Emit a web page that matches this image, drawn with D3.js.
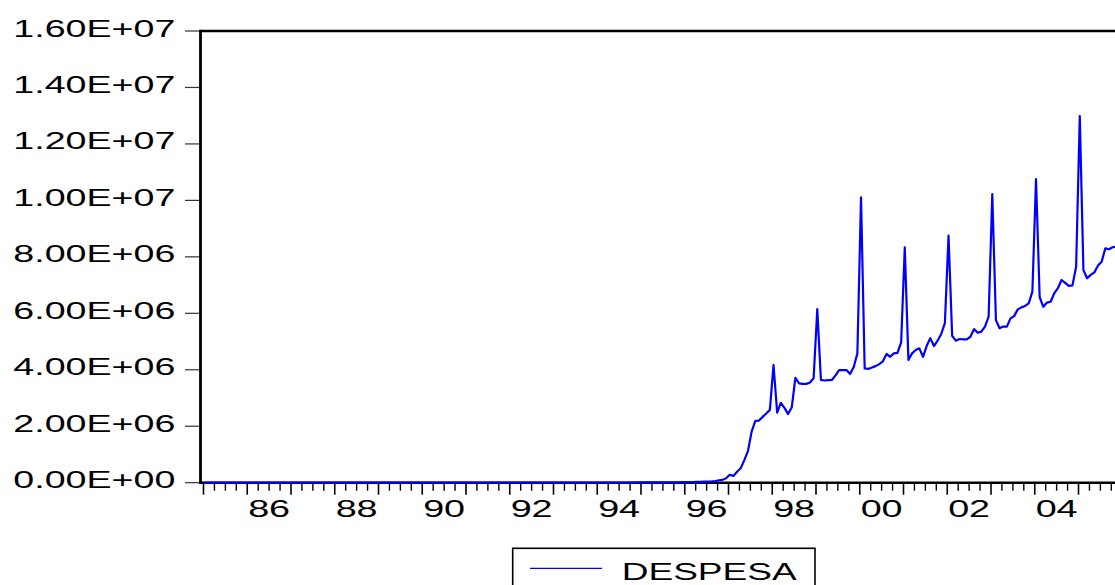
<!DOCTYPE html>
<html>
<head>
<meta charset="utf-8">
<script src="https://cdn.jsdelivr.net/npm/d3@7"></script>
<style>
  html, body { margin: 0; padding: 0; background: #fff; }
  svg { display: block; }
  text { font-family: "Liberation Sans", Arial, sans-serif; fill: #000; }
</style>
</head>
<body>
<svg id="chart" width="1115" height="585"></svg>
<script>
// ---- Data (monthly, in units of 1e6) ----
const startYear = 1985;
const seriesName = "DESPESA";
const d1985 = [0,0,0,0,0,0,0,0,0,0,0,0];
const d1986 = [0,0,0,0,0,0,0,0,0,0,0,0];
const d1987 = [0,0,0,0,0,0,0,0,0,0,0,0];
const d1988 = [0,0,0,0,0,0,0,0,0,0,0,0];
const d1989 = [0,0,0,0,0,0,0,0,0,0,0,0];
const d1990 = [0,0,0,0,0,0,0,0,0,0,0,0];
const d1991 = [0,0,0,0,0,0,0,0,0,0,0,0];
const d1992 = [0,0,0,0,0,0,0,0,0,0,0,0];
const d1993 = [0,0,0,0,0,0,0,0,0,0.001,0.001,0.001];
const d1994 = [0.001,0.001,0.002,0.002,0.003,0.004,0.004,0.005,0.005,0.006,0.006,0.008];
const d1995 = [0.008,0.009,0.009,0.010,0.010,0.011,0.012,0.012,0.013,0.014,0.015,0.018];
const d1996 = [0.02,0.02,0.025,0.03,0.03,0.035,0.04,0.045,0.06,0.08,0.10,0.16];
const d1997 = [0.28,0.24,0.39,0.51,0.80,1.13,1.81,2.19,2.20,2.33,2.45,2.58];
const d1998 = [4.17,2.48,2.83,2.65,2.43,2.67,3.71,3.52,3.50,3.50,3.55,3.70];
const d1999 = [6.15,3.64,3.62,3.63,3.64,3.80,3.99,3.99,3.99,3.85,4.10,4.58];
const d2000 = [10.11,4.05,4.03,4.08,4.13,4.20,4.30,4.56,4.46,4.58,4.60,4.96];
const d2001 = [8.34,4.35,4.58,4.70,4.76,4.46,4.84,5.12,4.84,5.03,5.27,5.65];
const d2002 = [8.75,5.20,5.03,5.09,5.08,5.08,5.17,5.44,5.31,5.35,5.53,5.88];
const d2003 = [10.22,5.76,5.47,5.53,5.53,5.82,5.90,6.14,6.21,6.26,6.35,6.77];
const d2004 = [10.75,6.57,6.23,6.38,6.41,6.71,6.89,7.18,7.08,6.97,6.99,7.65];
const d2005 = [12.99,7.53,7.24,7.36,7.45,7.69,7.83,8.30,8.27,8.34,8.36,8.40];
const yearlyValues = [d1985,d1986,d1987,d1988,d1989,d1990,d1991,d1992,d1993,d1994,
                      d1995,d1996,d1997,d1998,d1999,d2000,d2001,d2002,d2003,d2004,d2005];
const UNIT = 1e6;

const yTickValues = [0, 2e6, 4e6, 6e6, 8e6, 10e6, 12e6, 14e6, 16e6];
const yTickLabels = ["0.00E+00","2.00E+06","4.00E+06","6.00E+06","8.00E+06",
                     "1.00E+07","1.20E+07","1.40E+07","1.60E+07"];
const xLabelYears = [1986,1988,1990,1992,1994,1996,1998,2000,2002,2004];
const xTickLabels = ["86","88","90","92","94","96","98","00","02","04"];

// ---- Build series ----
const data = [];
yearlyValues.forEach((arr, yi) => {
  arr.forEach((v, m) => {
    data.push({ t: startYear + yi + (m + 0.35) / 12, v: v * UNIT });
  });
});

// ---- Layout ----
const svg = d3.select("#chart");
const plotLeft = 200.5, plotTop = 31, plotBottom = 482.7, plotRight = 1130;

const x = d3.scaleLinear().domain([1985, 2006]).range([203.5, 203.5 + 21 * 43.75]);
const y = d3.scaleLinear().domain([0, 1.6e7]).range([plotBottom, plotTop]);

svg.append("defs").append("clipPath").attr("id", "clip")
  .append("rect").attr("x", plotLeft).attr("y", plotTop - 5)
  .attr("width", plotRight - plotLeft).attr("height", plotBottom - plotTop + 10);

// Y ticks & labels
const yg = svg.append("g");
yTickValues.forEach((tv, i) => {
  const yy = y(tv);
  yg.append("line").attr("x1", 185).attr("x2", plotLeft).attr("y1", yy).attr("y2", yy)
    .attr("stroke", "#333").attr("stroke-width", 1.2);
  yg.append("text").attr("x", 13.3).attr("y", yy + 5.5)
    .attr("font-size", 24)
    .attr("textLength", 162).attr("lengthAdjust", "spacingAndGlyphs")
    .text(yTickLabels[i]);
});

// X ticks
const xg = svg.append("g");
for (let yr = 1985; yr <= 2005; yr++) {
  xg.append("line").attr("x1", x(yr)).attr("x2", x(yr))
    .attr("y1", plotBottom).attr("y2", plotBottom + 12)
    .attr("stroke", "#000").attr("stroke-width", 1.6);
  for (let q = 1; q < 4; q++) {
    const xx = x(yr + q / 4);
    if (xx > 1115) continue;
    xg.append("line").attr("x1", xx).attr("x2", xx)
      .attr("y1", plotBottom).attr("y2", plotBottom + 8)
      .attr("stroke", "#000").attr("stroke-width", 1.4);
  }
}
xLabelYears.forEach((yr, i) => {
  const cx = x(yr + 0.5);
  xg.append("text").attr("x", cx - 21).attr("y", 516.7)
    .attr("font-size", 24)
    .attr("textLength", 42).attr("lengthAdjust", "spacingAndGlyphs")
    .text(xTickLabels[i]);
});

// Frame
svg.append("line").attr("x1", plotLeft).attr("x2", plotRight).attr("y1", plotTop).attr("y2", plotTop)
  .attr("stroke", "#000").attr("stroke-width", 2.5);
svg.append("line").attr("x1", plotLeft).attr("x2", plotRight).attr("y1", plotBottom).attr("y2", plotBottom)
  .attr("stroke", "#000").attr("stroke-width", 2.5);
svg.append("line").attr("x1", plotLeft).attr("x2", plotLeft).attr("y1", plotTop - 1.2).attr("y2", plotBottom + 1.2)
  .attr("stroke", "#000").attr("stroke-width", 2.8);

// Series line
const line = d3.line().x(d => x(d.t)).y(d => y(d.v));
svg.append("path").datum(data)
  .attr("clip-path", "url(#clip)")
  .attr("d", line)
  .attr("fill", "none")
  .attr("stroke", "#0000FF")
  .attr("stroke-width", 2.2)
  .attr("stroke-linejoin", "round");

// Legend
const lg = svg.append("g");
lg.append("rect").attr("x", 512.7).attr("y", 548.3).attr("width", 302.3).attr("height", 60)
  .attr("fill", "#fff").attr("stroke", "#000").attr("stroke-width", 1.6);
lg.append("line").attr("x1", 530).attr("x2", 602).attr("y1", 568.3).attr("y2", 568.3)
  .attr("stroke", "#0000FF").attr("stroke-width", 1.3);
lg.append("text").attr("x", 621.7).attr("y", 580)
  .attr("font-size", 24)
  .attr("textLength", 175).attr("lengthAdjust", "spacingAndGlyphs")
  .text(seriesName);
</script>
</body>
</html>
